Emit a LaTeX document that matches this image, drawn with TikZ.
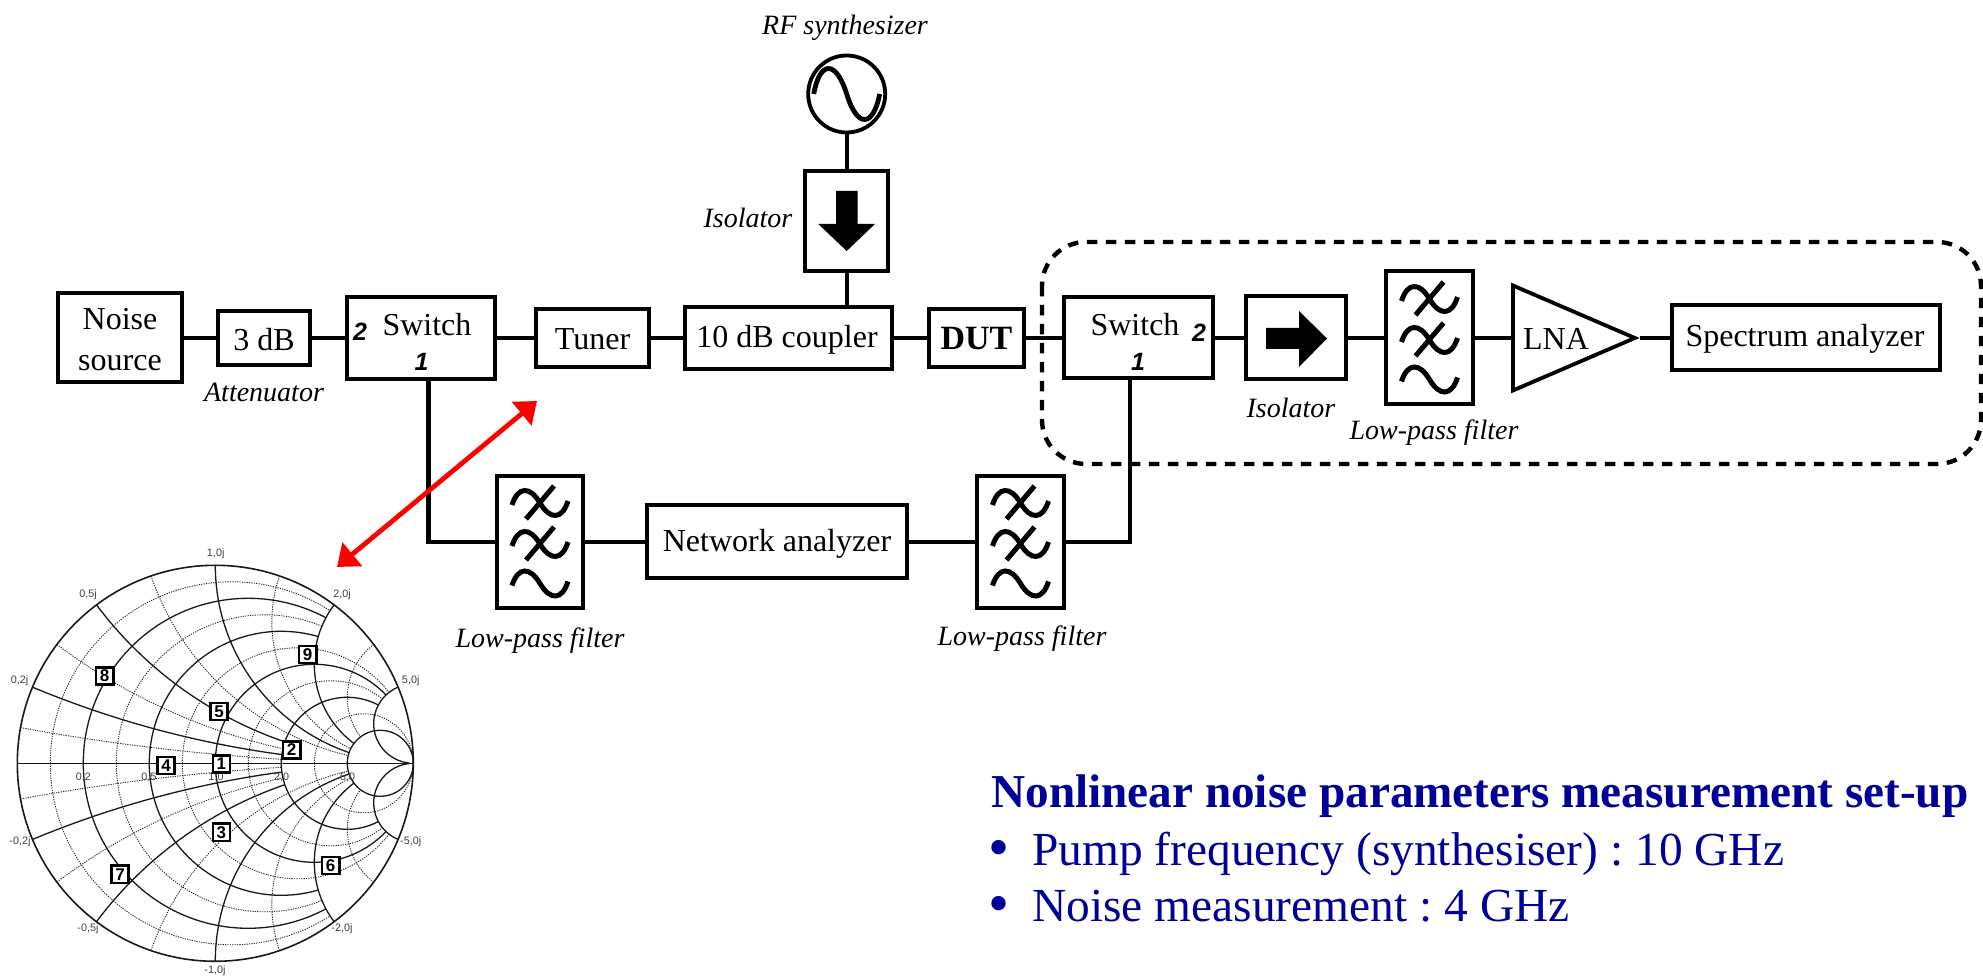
\documentclass[tikz,border=0pt]{standalone}
\usepackage{fontspec}
\setmainfont{Liberation Serif}
\newfontfamily\lsans{Liberation Sans}
\usetikzlibrary{arrows.meta,shapes.geometric}
\definecolor{titleblue}{HTML}{000099}
\tikzset{
  boxp/.style 2 args={draw,line width=2pt,minimum width=#1*0.5pt,minimum height=#2*0.5pt,inner sep=0pt},
  wire/.style={line width=2.1pt},
  main/.style={inner sep=0pt,font=\fontsize{16}{18}\selectfont},
  captext/.style={inner sep=0pt,font=\fontsize{14}{16}\selectfont\itshape},
  port/.style={inner sep=0pt,font=\lsans\fontsize{12.5}{14}\selectfont\bfseries\itshape},
  wavepen/.style={line width=2.5pt},
  blk/.style={fill=black,draw=none},
  smsolid/.style={line width=0.65pt,black!90},
  smdot/.style={line width=0.45pt,black!85,dash pattern=on 0.6pt off 0.6pt},
  smlab/.style={inner sep=0pt,text=black!75,font=\lsans\fontsize{5.4}{6}\selectfont},
  smbox/.style={draw,fill=white,line width=1.2pt,minimum size=8.6pt,inner sep=0pt,font=\lsans\fontsize{8.5}{9}\selectfont\bfseries},
  titletext/.style={inner sep=0pt,anchor=base west,text=titleblue,font=\fontsize{23.7}{26}\selectfont\frenchspacing},
  redarrow/.style={draw=red,line width=2.4pt,{Triangle[length=10pt,width=15pt]}-{Triangle[length=10pt,width=15pt]}}
}
\newcommand\wavecurve{(-28,2) .. controls (-22,-17) and (-10,-17) .. (0,0) .. controls (10,17) and (22,17) .. (28,-2)}
\newcommand\filtersym[2]{%
  \begin{scope}[shift={(#1,#2)}]
    \begin{scope}[shift={(0,-39)}]
      \draw[wavepen] \wavecurve; \draw[wavepen] (14,-17) -- (-14,16);
    \end{scope}
    \begin{scope}[shift={(0,2)}]
      \draw[wavepen] \wavecurve; \draw[wavepen] (14,-17) -- (-14,16);
    \end{scope}
    \begin{scope}[shift={(0,41.5)}]
      \draw[wavepen] \wavecurve;
    \end{scope}
  \end{scope}}
% Smith chart helpers (unit-circle coordinates)
\newcommand\xarc[3]{% x value, r end, style
  \pgfmathsetmacro\Rr{1/#1}
  \pgfmathsetmacro\ua{(#1*#1-1)/(1+#1*#1)}
  \pgfmathsetmacro\va{2*#1/(1+#1*#1)}
  \pgfmathsetmacro\den{(#2+1)*(#2+1)+#1*#1}
  \pgfmathsetmacro\ub{(#2*#2+#1*#1-1)/\den}
  \pgfmathsetmacro\vb{2*#1/\den}
  \pgfmathsetmacro\anga{atan2(\va-\Rr,\ua-1)}
  \pgfmathsetmacro\angb{atan2(\vb-\Rr,\ub-1)}
  \pgfmathsetmacro\anga{\anga<0?\anga+360:\anga}
  \pgfmathsetmacro\angb{\angb<0?\angb+360:\angb}
  \draw[#3] (\ua,\va) arc[start angle=\anga,end angle=\angb,radius=\Rr];}
\newcommand\rarc[3]{% r value, x end, style
  \pgfmathsetmacro\cc{#1/(#1+1)}
  \pgfmathsetmacro\Rr{1/(#1+1)}
  \pgfmathsetmacro\den{(#1+1)*(#1+1)+#2*#2}
  \pgfmathsetmacro\ub{(#1*#1+#2*#2-1)/\den}
  \pgfmathsetmacro\vb{2*#2/\den}
  \pgfmathsetmacro\angb{atan2(\vb,\ub-\cc)}
  \pgfmathsetmacro\stx{\cc-\Rr}
  \draw[#3] (\stx,0) arc[start angle=180,end angle=\angb,radius=\Rr];}
\newcommand\halfchart{%
  \xarc{0.0909}{2}{smdot}\xarc{0.3333}{2}{smdot}\xarc{0.7143}{5}{smdot}\xarc{1.4}{5}{smdot}\xarc{3}{5}{smdot}
  \rarc{0.0909}{2}{smdot}\rarc{0.3333}{2}{smdot}\rarc{0.7143}{5}{smdot}\rarc{1.4}{5}{smdot}
  \draw[smdot] (0.5,0) arc[start angle=180,end angle=0,radius=0.25];
  \xarc{0.2}{2}{smsolid}\xarc{0.5}{2}{smsolid}\xarc{1}{5}{smsolid}\xarc{2}{5}{smsolid}\xarc{5}{100}{smsolid}
  \rarc{0.2}{2}{smsolid}\rarc{0.5}{2}{smsolid}\rarc{1}{5}{smsolid}\rarc{2}{5}{smsolid}
  \draw[smsolid] (0.6667,0) arc[start angle=180,end angle=0,radius=0.16667];}
\begin{document}
\begin{tikzpicture}[x=0.5pt,y=-0.5pt]
\useasboundingbox (0,0) rectangle (1983,977);
\fill[white] (0,0) rectangle (1983,977);

% dashed group
\draw[line width=2.2pt,dash pattern=on 5.2pt off 4.3pt,rounded corners=22pt] (1042,242) rectangle (1981,464);

% top chain
\node[boxp={124}{89}] (noise) at (120,338) {};
\node[main,align=center,font=\fontsize{16}{20.5}\selectfont] (noiset) at (120,340) {Noise\\source};
\node[boxp={92}{54}] (att) at (264,338) {};
\node[main] (attt) at (264,339.5) {3 dB};
\node[boxp={148}{82}] (swa) at (421,338) {};
\node[main] (swat) at (427,324.5) {Switch};
\node[port] (swa2) at (360,332) {2};
\node[port] (swa1) at (421.5,362) {1};
\node[boxp={113}{58}] (tuner) at (592.5,338) {};
\node[main] (tunert) at (592.5,339.5) {Tuner};
\node[boxp={207}{62}] (coup) at (788,338) {};
\node[main] (coupt) at (787,340) {10 dB coupler};
\node[boxp={95}{58}] (dut) at (976.5,338) {};
\node[main,font=\fontsize{17}{19}\selectfont\bfseries] (dutt) at (976.5,339) {DUT};
\node[boxp={149}{81}] (swb) at (1138.5,338) {};
\node[main] (swbt) at (1135,324.5) {Switch};
\node[port] (swb2) at (1199,333) {2};
\node[port] (swb1) at (1138,362) {1};
\node[boxp={100}{83}] (isob) at (1296,338) {};
\node[boxp={87}{133}] (lpb) at (1429.5,338) {};
\node[draw,line width=1.9pt,isosceles triangle,isosceles triangle stretches,minimum height=122*0.5pt,minimum width=105*0.5pt,inner sep=0pt,anchor=lower side] (lna) at (1511,338) {};
\node[main] (lnat) at (1556,338.5) {LNA};
\node[boxp={268}{65}] (spec) at (1806,338) {};
\node[main] (spect) at (1805,339) {Spectrum analyzer};

% source branch
\node[circle,draw,line width=1.9pt,minimum size=38.5pt,inner sep=0pt] (synth) at (846.7,94) {};
\node[boxp={83.5}{100}] (isoa) at (846.7,221) {};
\node[captext] (synthl) at (845,27.5) {RF synthesizer};
\node[captext] (isoal) at (748,217.5) {Isolator};
\node[captext] (attl) at (264,392) {Attenuator};
\node[captext] (isobl) at (1291,408) {Isolator};
\node[captext] (lpbl) at (1434,433) {Low-pass filter};

% lower branch
\node[boxp={86}{132}] (lpl) at (540,542) {};
\node[boxp={260}{73}] (na) at (777,542) {};
\node[main] (nat) at (777,544) {Network analyzer};
\node[boxp={87}{132}] (lpr) at (1020.5,542) {};
\node[captext] (lpll) at (540,641) {Low-pass filter};
\node[captext] (lprl) at (1022,639) {Low-pass filter};

% wires
\draw[wire] (noise) -- (att);
\draw[wire] (att) -- (swa);
\draw[wire] (swa) -- (tuner);
\draw[wire] (tuner) -- (coup);
\draw[wire] (coup) -- (dut);
\draw[wire] (dut) -- (swb);
\draw[wire] (swb) -- (isob);
\draw[wire] (isob) -- (lpb);
\draw[wire] (lpb.east) -- (lna.lower side);
\draw[wire] (lna.apex) -- (lna.apex -| spec.west);
\draw[wire] (synth) -- (isoa);
\draw[wire] (isoa) -- (coup.north -| isoa);
\draw[wire] ([xshift=3.75pt]swa.south) |- (lpl.west);
\draw[wire] (lpl) -- (na);
\draw[wire] (na) -- (lpr);
\draw[wire] ([xshift=-4.25pt]swb.south) |- (lpr.east);

% symbols
\filtersym{540}{542}
\filtersym{1020.5}{542}
\filtersym{1429.5}{338}
\draw[line width=2.4pt] (813.7,94) .. controls (820,60) and (836,60) .. (846.7,94) .. controls (857,128) and (873,128) .. (879.7,94);
\fill[blk] (836,191) -- (857.7,191) -- (857.7,224) -- (875,224) -- (846.7,251) -- (818.3,224) -- (836,224) -- cycle;
\fill[blk] (1266,328) -- (1299,328) -- (1299,311) -- (1327,338.5) -- (1299,367) -- (1299,349) -- (1266,349) -- cycle;

% red arrow
\coordinate (rta) at (537,401);
\coordinate (rtb) at (337,567);
\draw[redarrow] (rtb) -- (rta);

% Smith chart
\begin{scope}[shift={(215.3,763.3)},x=99pt,y=99pt]
  \begin{scope}\halfchart\end{scope}
  \begin{scope}[yscale=-1]\halfchart\end{scope}
  \draw[smsolid] (-1,0) -- (1,0);
  \draw[smsolid,line width=0.8pt] (0,0) circle[radius=1];
\end{scope}
\foreach \n/\xx/\yy/\lbl in {a/215.7/553.5/{1,0j},b/88/595/{0,5j},c/342/595/{2,0j},d/19.5/681/{0,2j},e/410.7/681/{5,0j},
  f/83.3/777.5/{0,2},g/149/777.5/{0,5},h/216/777.5/{1,0},i/281.7/777.5/{2,0},j/347.7/777.5/{5,0},
  k/20/842/{-0,2j},l/410.7/842/{-5,0j},m/88/929/{-0,5j},n/342/929/{-2,0j},o/215/970.5/{-1,0j}}
  \node[smlab] (lab\n) at (\xx,\yy) {\lbl};
\foreach \n/\xx/\yy in {1/221.3/764,2/291.7/750,3/221.3/832.3,4/166/765.7,5/219/711.7,6/330.7/865.7,7/120/874.3,8/104.7/676,9/307.7/654.7}
  \node[smbox] (pt\n) at (\xx,\yy) {\n};

% title text
\node[titletext,font=\fontsize{23.6}{26}\selectfont\bfseries] (ttl) at (991,808) {Nonlinear noise parameters measurement set-up};
\node[titletext,font=\fontsize{30}{32}\selectfont] (bula) at (988.5,868) {•};
\node[titletext] (lina) at (1032,866) {Pump frequency (synthesiser) : 10 GHz};
\node[titletext,font=\fontsize{30}{32}\selectfont] (bulb) at (988.5,924) {•};
\node[titletext] (linb) at (1032,922) {Noise measurement : 4 GHz};
\end{tikzpicture}
\end{document}
